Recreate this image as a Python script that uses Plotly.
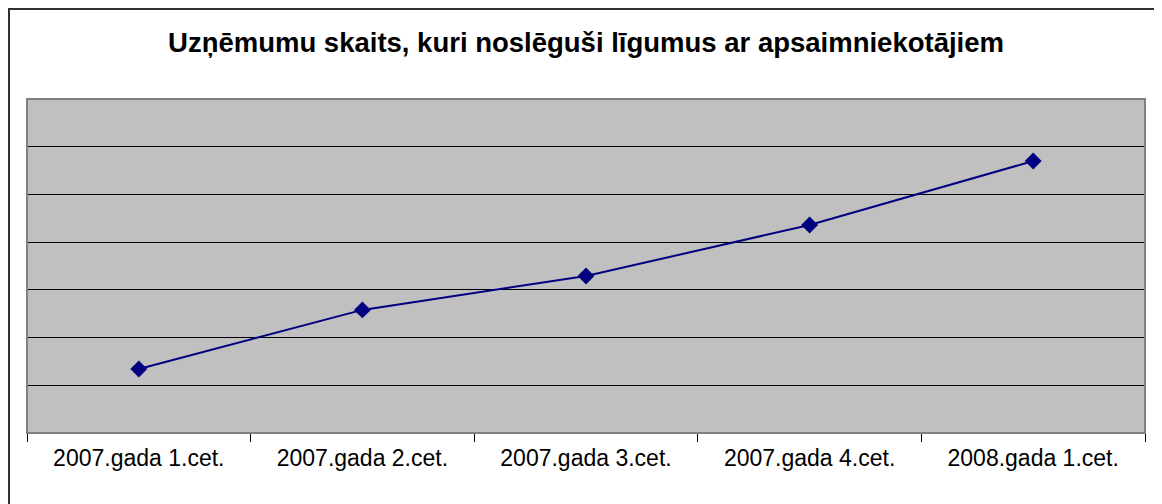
import plotly.graph_objects as go

# quarters and values (y axis has no labels, values read as grid units)
QUARTERS = ["2007.gada 1.cet.", "2007.gada 2.cet.", "2007.gada 3.cet.",
            "2007.gada 4.cet.", "2008.gada 1.cet."]
COMPANIES = [1.34, 2.58, 3.29, 4.36, 5.70]
TITLE = "Uzņēmumu skaits, kuri noslēguši līgumus ar apsaimniekotājiem"

LINE_COLOR = "#000080"
PLOT_BG = "#C0C0C0"
FONT = "Liberation Sans, Arial, sans-serif"

fig = go.Figure()
fig.add_trace(go.Scatter(
    x=QUARTERS, y=COMPANIES,
    mode="lines+markers",
    line=dict(color=LINE_COLOR, width=2),
    marker=dict(symbol="diamond", size=13, color=LINE_COLOR),
    showlegend=False,
    hoverinfo="x+y",
))

# outer chart border: only top and left edges fall inside the window
fig.add_shape(type="rect", xref="paper", yref="paper",
              x0=-0.0161, x1=1.2, y0=-0.5, y1=1.2695,
              line=dict(color="#303030", width=2), fillcolor="rgba(0,0,0,0)")
# plot area frame
fig.add_shape(type="rect", xref="paper", yref="paper",
              x0=0, x1=1, y0=0, y1=1,
              line=dict(color="#808080", width=2), fillcolor="rgba(0,0,0,0)")

# page body has an 8px margin, so the figure is shifted by 8px
fig.update_layout(
    width=1154, height=496,
    margin=dict(l=19, r=17, t=91, b=71),
    paper_bgcolor="white",
    plot_bgcolor=PLOT_BG,
    font=dict(family=FONT, color="black"),
    title=dict(text=f"<b>{TITLE}</b>", x=0.5, xanchor="center",
               xref="paper",
               y=1 - 34 / 496, yanchor="middle",
               font=dict(size=27.5, family=FONT, color="black")),
)
fig.update_xaxes(
    type="category", range=[-0.5, 4.5],
    showgrid=False, zeroline=False,
    showline=True, linecolor="black", linewidth=1,
    ticks="outside", tickson="boundaries", ticklen=8, tickcolor="black",
    tickfont=dict(size=23, family=FONT, color="black"),
    ticklabelstandoff=4,
)
fig.update_yaxes(
    range=[0, 7], dtick=1,
    showgrid=True, gridcolor="black", gridwidth=1,
    zeroline=False, showticklabels=False, ticks="",
)

fig.write_html("out.html")
